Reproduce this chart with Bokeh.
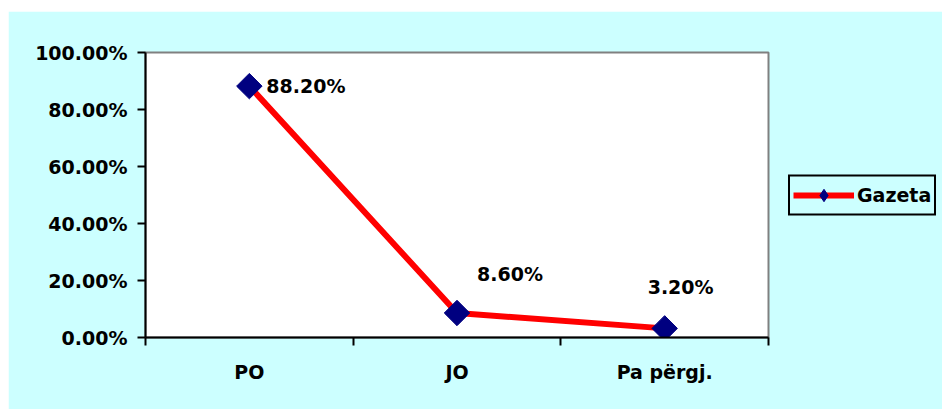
from bokeh.plotting import figure
from bokeh.models import (ColumnDataSource, Range1d, FixedTicker, NumeralTickFormatter,
                          Legend, LegendItem, Spacer)
from bokeh.layouts import row, column
from bokeh.core.properties import value
from bokeh.embed import file_html
from bokeh.resources import INLINE
import numpy as np

categories = ["PO", "JO", "Pa përgj."]
values = [0.882, 0.086, 0.032]
series_name = "Gazeta"
y_ticks = [0.0, 0.2, 0.4, 0.6, 0.8, 1.0]

# label placement (screen px)
label_dx = [17, 20, -17]
label_dy = [0, -39, -41]

FONT = "DejaVu Sans"
FS = "19px"
BG = "#CCFFFF"
NAVY = "#000080"

xs = [i + 0.5 for i in range(len(categories))]
src = ColumnDataSource(dict(
    x=xs, y=values,
    lab=[f"{v*100:.2f}%" for v in values],
    dx=label_dx, dy=label_dy,
))

p = figure(frame_width=623, frame_height=285, output_backend="svg", toolbar_location=None,
           x_range=Range1d(0, len(categories)), y_range=Range1d(0, 1),
           min_border_left=137, min_border_right=174, min_border_top=41,
           min_border_bottom=72)
p.border_fill_color = BG
p.background_fill_color = "white"
p.outline_line_color = "#808080"
p.outline_line_width = 2
p.grid.visible = False

ln = p.line("x", "y", source=src, line_color="#FF0000", line_width=6)
# diamond renderer (used for the legend glyph; hidden beneath the rotated squares)
leg_mk = p.scatter("x", "y", source=src, marker="diamond", size=12,
                   fill_color=NAVY, line_color=NAVY)
sc = p.scatter("x", "y", source=src, marker="square", size=18, angle=np.pi / 4,
               fill_color=NAVY, line_color=NAVY)
p.text("x", "y", text="lab", source=src, x_offset="dx", y_offset="dy",
       text_align="left", text_baseline="middle", text_font=value(FONT),
       text_font_size=value(FS), text_font_style="bold", text_color="black")

# y axis
ya = p.yaxis[0]
ya.ticker = FixedTicker(ticks=y_ticks)
ya.formatter = NumeralTickFormatter(format="0.00%")
ya.axis_line_width = 2
ya.axis_line_color = "black"
ya.major_tick_out = 8
ya.major_tick_in = 0
ya.major_tick_line_width = 2
ya.minor_tick_line_color = None
ya.major_label_standoff = 10
ya.major_label_text_font = FONT
ya.major_label_text_font_size = FS
ya.major_label_text_font_style = "bold"
ya.major_label_text_color = "black"

# x axis
xa = p.xaxis[0]
xa.ticker = FixedTicker(ticks=xs, minor_ticks=list(range(len(categories) + 1)))
xa.major_label_overrides = {x: c for x, c in zip(xs, categories)}
xa.axis_line_width = 2
xa.axis_line_color = "black"
xa.major_tick_out = 0
xa.major_tick_in = 0
xa.minor_tick_out = 8
xa.minor_tick_in = 0
xa.minor_tick_line_width = 2
xa.minor_tick_line_color = "black"
xa.major_label_standoff = 15
xa.major_label_text_font = FONT
xa.major_label_text_font_size = FS
xa.major_label_text_font_style = "bold"
xa.major_label_text_color = "black"

legend = Legend(items=[LegendItem(label=series_name, renderers=[ln, leg_mk])],
                location="center_left")
legend.background_fill_color = BG
legend.background_fill_alpha = 1
legend.border_line_color = "black"
legend.border_line_alpha = 1
legend.border_line_width = 2
legend.padding = 3
legend.margin = 20
legend.spacing = 0
legend.glyph_width = 61
legend.glyph_height = 31
legend.label_height = 31
legend.label_standoff = 3
legend.label_text_font = FONT
legend.label_text_font_size = FS
legend.label_text_font_style = "bold"
legend.label_text_color = "black"
legend.label_text_baseline = "middle"
p.add_layout(legend, "right")

layout = row(Spacer(width=8), column(Spacer(height=11), p))
open("out.html", "w").write(file_html(layout, INLINE))
